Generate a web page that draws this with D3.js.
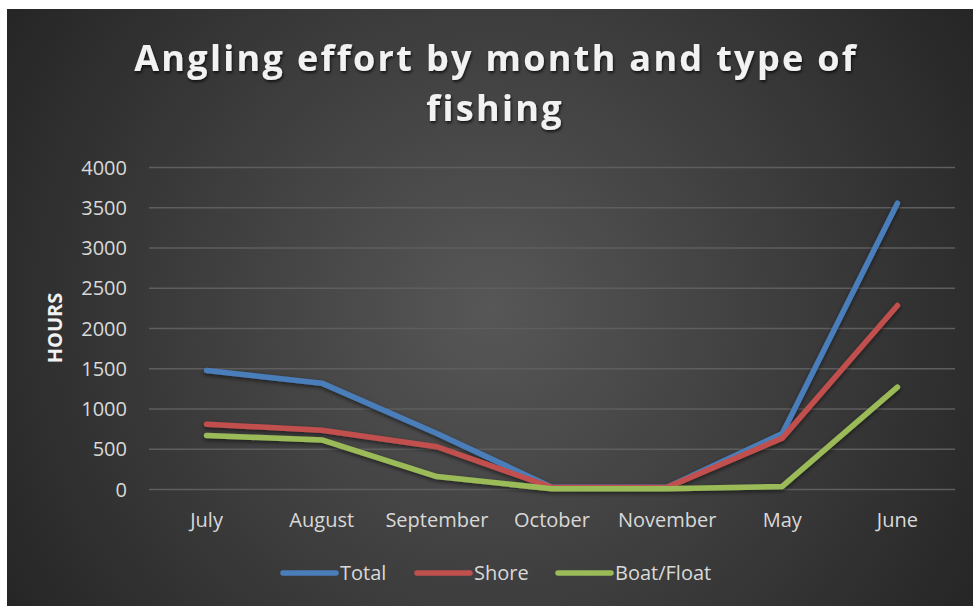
<!DOCTYPE html>
<html><head><meta charset="utf-8">
<script src="https://cdn.jsdelivr.net/npm/d3@7"></script>
<style>
html,body{margin:0;padding:0;background:#fff;}
svg{display:block;}
</style></head>
<body>
<svg id="chart" width="973" height="606"></svg>
<script>
const months = ["July","August","September","October","November","May","June"];
const totalValues = [1472, 1315, 690, 22, 22, 690, 3550];
const shoreValues = [805, 730, 525, 20, 20, 632, 2280];
const boatValues = [665, 610, 155, 2, 2, 32, 1265];
const yTicks = [0,500,1000,1500,2000,2500,3000,3500,4000];
const seriesNames = ["Total","Shore","Boat/Float"];
const seriesColors = ["#4a7ebb","#c0504d","#9bbb59"];
const titleLines = ["Angling effort by month and type of","fishing"];
const yAxisTitle = "HOURS";

const svg = d3.select("#chart");
const W = 973, H = 606;
const defs = svg.append("defs");
const rg = defs.append("radialGradient").attr("id","bg")
  .attr("gradientUnits","userSpaceOnUse").attr("cx",490).attr("cy",310).attr("r",560);
rg.append("stop").attr("offset","0").attr("stop-color","#575757");
rg.append("stop").attr("offset","1").attr("stop-color","#262626");
const sh = defs.append("filter").attr("id","shadow").attr("x","-10%").attr("y","-10%").attr("width","120%").attr("height","130%");
sh.append("feDropShadow").attr("dx",0).attr("dy",2).attr("stdDeviation",2).attr("flood-color","#000").attr("flood-opacity",0.55);
const tsh = defs.append("filter").attr("id","tshadow").attr("x","-5%").attr("y","-20%").attr("width","110%").attr("height","150%");
tsh.append("feDropShadow").attr("dx",1).attr("dy",2).attr("stdDeviation",1.5).attr("flood-color","#000").attr("flood-opacity",0.7);

svg.append("rect").attr("x",7).attr("y",9).attr("width",W-7).attr("height",H-9).attr("fill","url(#bg)");

const font = "'Open Sans', sans-serif";

// Title
const titleY = [71, 121];
const titleWidths = [724, 132];
titleLines.forEach((t,i)=>{
  const tt = svg.append("text").attr("x",495).attr("y",titleY[i])
    .attr("text-anchor","middle").attr("font-family",font).attr("font-weight","bold")
    .attr("font-size",36).attr("fill","#f2f2f2")
    .attr("filter","url(#tshadow)").text(t);
  const len = tt.node().getComputedTextLength();
  const ls = (titleWidths[0] - (i===0?len:0)) / t.length;
  if (i===0) tt.attr("letter-spacing", ls.toFixed(2)+"px").attr("dx",(ls/2).toFixed(2));
  else tt.attr("letter-spacing", svg.select("text").attr("letter-spacing"));
});

const m = {l:149, r:955, t:167, b:489};
const x = d3.scaleBand().domain(months).range([m.l, m.r]);
const y = d3.scaleLinear().domain([0,4000]).range([m.b, m.t]);

// Grid
const yAxis = d3.axisLeft(y).tickValues(yTicks).tickSize(-(m.r-m.l)).tickPadding(10).tickFormat(d3.format("d"));
const gy = svg.append("g").attr("transform",`translate(${m.l},0)`).call(yAxis);
gy.select(".domain").remove();
gy.selectAll(".tick line").attr("stroke","#5e5e5e").attr("stroke-width",1.5);
gy.selectAll(".tick text").attr("fill","#d9d9d9").attr("font-family",font).attr("font-size",20).attr("x",-22).attr("dy","0.36em");

const xAxis = d3.axisBottom(x).tickSize(0).tickPadding(19);
const gx = svg.append("g").attr("transform",`translate(0,${m.b})`).call(xAxis);
gx.select(".domain").remove();
gx.selectAll(".tick text").attr("fill","#d9d9d9").attr("font-family",font).attr("font-size",20).attr("dy","0.95em");

// Y title
svg.append("text").attr("transform","translate(62,328) rotate(-90)").attr("text-anchor","middle")
  .attr("font-family",font).attr("font-weight","bold").attr("font-size",20).attr("fill","#f2f2f2").text(yAxisTitle);

// Lines
const data = [totalValues, shoreValues, boatValues];
const line = d3.line().x((d,i)=>x(months[i])+x.bandwidth()/2).y(d=>y(d));
const gl = svg.append("g").attr("filter","url(#shadow)");
data.forEach((vals,k)=>{
  gl.append("path").attr("d",line(vals)).attr("fill","none").attr("stroke",seriesColors[k])
    .attr("stroke-width",5.5).attr("stroke-linecap","round").attr("stroke-linejoin","round");
});

// Legend
const legX = [283, 417, 558];
const legY = 573;
seriesNames.forEach((n,k)=>{
  svg.append("line").attr("x1",legX[k]).attr("x2",legX[k]+53).attr("y1",legY).attr("y2",legY)
    .attr("stroke",seriesColors[k]).attr("stroke-width",5.5).attr("stroke-linecap","round");
  svg.append("text").attr("x",legX[k]+57).attr("y",legY).attr("dy","0.36em")
    .attr("font-family",font).attr("font-size",20).attr("fill","#d9d9d9").text(n);
});
</script>
</body></html>
